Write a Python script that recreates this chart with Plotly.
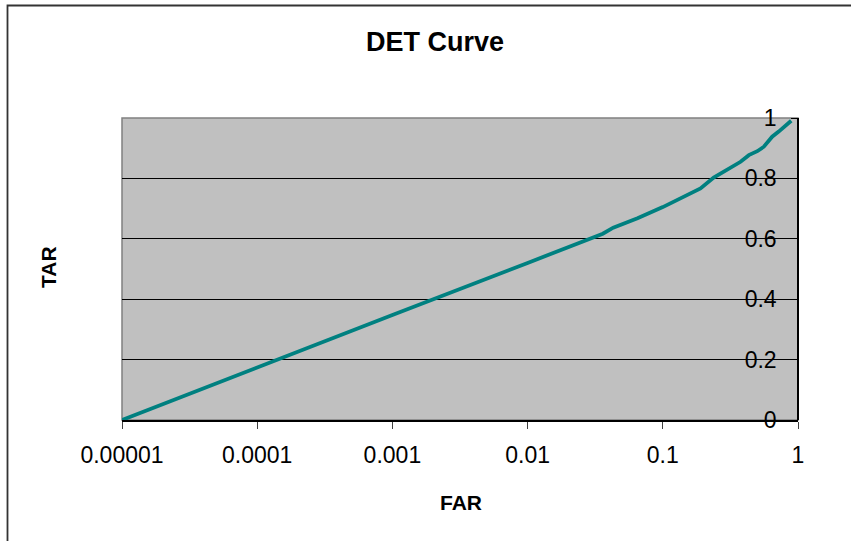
import plotly.graph_objects as go

far = [1e-5, 1e-4, 1e-3, 1e-2, 0.029, 0.036, 0.043, 0.065, 0.1, 0.143, 0.19, 0.238,
       0.3, 0.376, 0.433, 0.5, 0.559, 0.644, 0.72, 0.891]
tar = [0.0, 0.175, 0.348, 0.52, 0.600, 0.617, 0.637, 0.668, 0.705, 0.739, 0.767, 0.803,
       0.83, 0.855, 0.877, 0.89, 0.905, 0.938, 0.955, 0.991]

x_tickvals = [1e-5, 1e-4, 1e-3, 1e-2, 1e-1, 1]
x_ticktext = ["0.00001", "0.0001", "0.001", "0.01", "0.1", "1"]
y_tickvals = [0, 0.2, 0.4, 0.6, 0.8, 1]
y_ticktext = ["0", "0.2", "0.4", "0.6", "0.8", "1"]

title_text = "DET Curve"
x_title = "FAR"
y_title = "TAR"

W, H = 851, 541
L, R, T, B = 122, 798, 118, 420

FONT = "Arial, 'Liberation Sans', sans-serif"

fig = go.Figure()
fig.add_trace(go.Scatter(x=far, y=tar, mode="lines",
                         line=dict(color="#008080", width=3.8),
                         hoverinfo="skip", showlegend=False))

def px_to_paper_x(px):
    return (px - L) / (R - L)

def px_to_paper_y(py):
    return (B - py) / (B - T)

fig.update_layout(
    width=W, height=H,
    margin=dict(l=L, r=W - R, t=T, b=H - B, pad=0),
    paper_bgcolor="white",
    plot_bgcolor="#c0c0c0",
    font=dict(family=FONT, size=23, color="black"),
    showlegend=False,
    xaxis=dict(
        type="log", range=[-5, 0],
        tickvals=x_tickvals, ticktext=x_ticktext,
        ticks="outside", ticklen=7, tickwidth=1.3, tickcolor="#404040",
        showgrid=False, zeroline=False,
        showline=True, linecolor="black", linewidth=1.5,
        ticklabelstandoff=7,
        tickfont=dict(size=23),
    ),
    yaxis=dict(
        range=[0, 1], side="left", anchor="free", position=1,
        tickvals=y_tickvals, ticktext=y_ticktext,
        ticks="outside", ticklen=6, tickwidth=1.3, tickcolor="black",
        ticklabelstandoff=10,
        showgrid=True, gridcolor="black", gridwidth=1,
        zeroline=False,
        showline=True, linecolor="black", linewidth=1.5,
        tickfont=dict(size=23),
    ),
    shapes=[
        dict(type="rect", xref="paper", yref="paper", x0=0, x1=1, y0=0, y1=1,
             line=dict(color="#808080", width=1.5), layer="between"),
        dict(type="rect", xref="paper", yref="paper",
             x0=px_to_paper_x(7.5), x1=px_to_paper_x(W + 20),
             y0=px_to_paper_y(H + 20), y1=px_to_paper_y(5.5),
             line=dict(color="#333333", width=1.8), layer="above"),
    ],
    annotations=[
        dict(text="<b>" + title_text + "</b>", xref="paper", yref="paper",
             x=px_to_paper_x(435), y=px_to_paper_y(42), showarrow=False,
             xanchor="center", yanchor="middle", font=dict(size=27)),
        dict(text="<b>" + x_title + "</b>", xref="paper", yref="paper",
             x=px_to_paper_x(461), y=px_to_paper_y(502), showarrow=False,
             xanchor="center", yanchor="middle", font=dict(size=21)),
        dict(text="<b>" + y_title + "</b>", xref="paper", yref="paper",
             x=px_to_paper_x(48), y=px_to_paper_y(267), showarrow=False,
             xanchor="center", yanchor="middle", textangle=-90, font=dict(size=21)),
    ],
)

fig.write_html("out.html",
               config={"displayModeBar": False},
               post_script="document.body.style.margin='0';document.body.style.overflow='hidden';")
